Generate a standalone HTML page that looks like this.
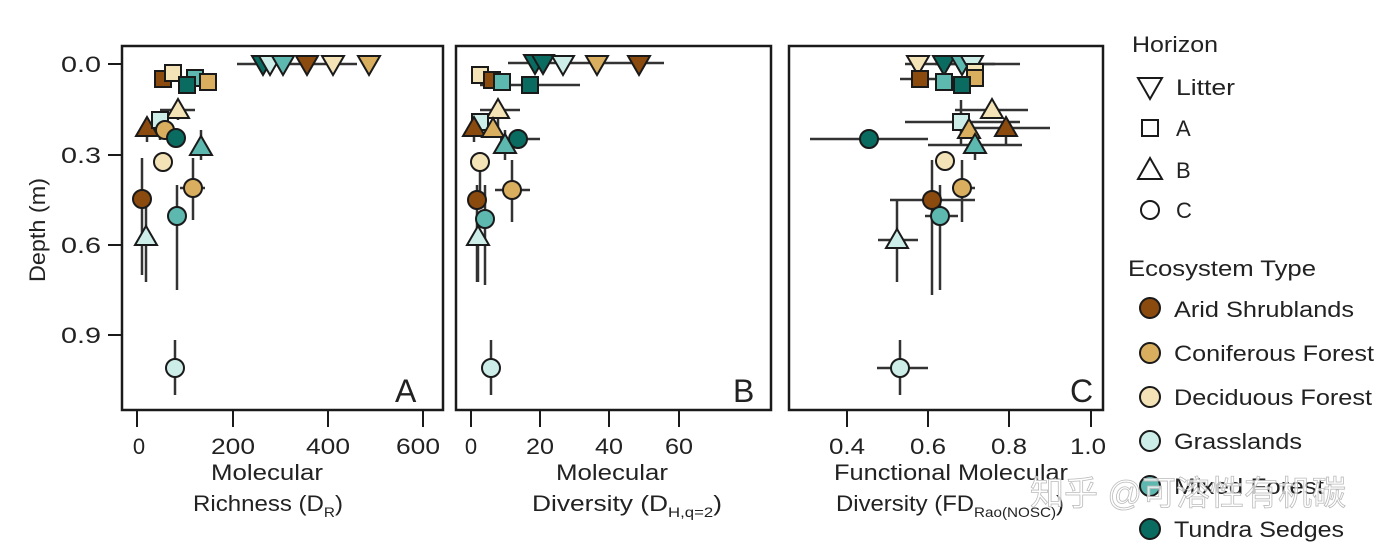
<!DOCTYPE html>
<html><head><meta charset="utf-8"><style>
html,body{margin:0;padding:0;background:#fff;width:1384px;height:549px;overflow:hidden}
svg text{font-family:"Liberation Sans","Noto Sans CJK SC",sans-serif;fill:#222}
</style></head><body>
<svg id="s" width="1384" height="549" viewBox="0 0 1384 549" xmlns="http://www.w3.org/2000/svg">
<g fill="none" stroke="#1a1a1a" stroke-width="2.5">
<rect x="122" y="46" width="321" height="364"/>
<rect x="456" y="46" width="315" height="364"/>
<rect x="789" y="46" width="314" height="364"/>
</g>
<g stroke="#1a1a1a" stroke-width="2">
<line x1="108" y1="64" x2="122" y2="64"/><line x1="108" y1="155" x2="122" y2="155"/><line x1="108" y1="245" x2="122" y2="245"/><line x1="108" y1="335" x2="122" y2="335"/>
<line x1="137" y1="411" x2="137" y2="427"/><line x1="233" y1="411" x2="233" y2="427"/><line x1="328" y1="411" x2="328" y2="427"/><line x1="423" y1="411" x2="423" y2="427"/>
<line x1="471" y1="411" x2="471" y2="427"/><line x1="540" y1="411" x2="540" y2="427"/><line x1="609" y1="411" x2="609" y2="427"/><line x1="679" y1="411" x2="679" y2="427"/>
<line x1="847" y1="411" x2="847" y2="427"/><line x1="928" y1="411" x2="928" y2="427"/><line x1="1009" y1="411" x2="1009" y2="427"/><line x1="1091" y1="411" x2="1091" y2="427"/>
</g>
<g font-size="22" text-anchor="end">
<text x="101" y="72" textLength="40">0.0</text><text x="101" y="163" textLength="40">0.3</text><text x="101" y="253" textLength="40">0.6</text><text x="101" y="343" textLength="40">0.9</text>
</g>
<g font-size="22" text-anchor="middle">
<text x="139" y="454">0</text><text x="233" y="454" textLength="44">200</text><text x="328" y="454" textLength="44">400</text><text x="418" y="454" textLength="44">600</text>
<text x="471" y="454">0</text><text x="540" y="454" textLength="28">20</text><text x="609" y="454" textLength="28">40</text><text x="679" y="454" textLength="28">60</text>
<text x="847" y="454" textLength="36">0.4</text><text x="928" y="454" textLength="36">0.6</text><text x="1009" y="454" textLength="36">0.8</text><text x="1088" y="454" textLength="36">1.0</text>
<text x="267" y="480" textLength="112">Molecular</text><text x="268" y="511" textLength="150">Richness (D<tspan font-size="14" dy="6">R</tspan><tspan dy="-6">)</tspan></text>
<text x="612" y="480" textLength="112">Molecular</text><text x="627" y="511" textLength="190">Diversity (D<tspan font-size="14" dy="6">H,q=2</tspan><tspan dy="-6">)</tspan></text>
<text x="951" y="480" textLength="234">Functional Molecular</text><text x="950" y="511" textLength="228">Diversity (FD<tspan font-size="14" dy="6">Rao(NOSC)</tspan><tspan dy="-6">)</tspan></text>
</g>
<text x="45" y="230" font-size="22" text-anchor="middle" transform="rotate(-90 45 230)" textLength="104">Depth (m)</text>
<g font-size="32"><text x="395" y="402">A</text><text x="733" y="402">B</text><text x="1070" y="402">C</text></g>
<g id="pts"></g>
<g font-size="22">
<text x="1132" y="52" textLength="86">Horizon</text>
<text x="1176" y="95" textLength="59">Litter</text><text x="1176" y="136">A</text><text x="1176" y="178">B</text><text x="1176" y="218">C</text>
<text x="1128" y="276" textLength="188">Ecosystem Type</text>
<text x="1174" y="317" textLength="180">Arid Shrublands</text><text x="1174" y="361" textLength="200">Coniferous Forest</text><text x="1174" y="405" textLength="198">Deciduous Forest</text><text x="1174" y="449" textLength="128">Grasslands</text><text x="1174" y="494" textLength="150">Mixed Forest</text><text x="1174" y="537" textLength="170">Tundra Sedges</text>
</g>
<g id="leg"></g>
<text x="1030" y="505" font-size="34" style="fill:rgba(255,255,255,0.75)" stroke="#bbb" stroke-width="0.8">知乎 @可溶性有机碳</text>
</svg>
<script>
document.querySelectorAll("text[textLength]").forEach(function(t){t.setAttribute("lengthAdjust","spacingAndGlyphs");});
var C={a:"#8B4A0E",c:"#D9AE5F",d:"#F5E3B8",g:"#CDEEE8",m:"#5DB8B0",t:"#0A6B60"};
var NS="http://www.w3.org/2000/svg";
function el(p,n,at){var e=document.createElementNS(NS,n);for(var k in at)e.setAttribute(k,at[k]);p.appendChild(e);return e;}
function mk(p,sh,x,y,col,s){s=s||9;var at={fill:col,stroke:"#1a1a1a","stroke-width":2};
 if(sh=="o"){at.cx=x;at.cy=y;at.r=s;el(p,"circle",at);}
 else if(sh=="s"){at.x=x-s+1;at.y=y-s+1;at.width=2*s-2;at.height=2*s-2;el(p,"rect",at);}
 else if(sh=="v"){at.points=(x-s-2)+","+(y-s+1)+" "+(x+s+2)+","+(y-s+1)+" "+x+","+(y+s+2);el(p,"polygon",at);}
 else {at.points=(x-s-2)+","+(y+s-1)+" "+(x+s+2)+","+(y+s-1)+" "+x+","+(y-s-2);el(p,"polygon",at);}}
var G=document.getElementById("pts");
function bar(x1,y1,x2,y2){el(G,"line",{x1:x1,y1:y1,x2:x2,y2:y2,stroke:"#333","stroke-width":2.5});}
var P=[
["v","t",263,64,237,357],["v","g",270,64],["v","m",283,64],["v","a",307,64],["v","d",333,64],["v","c",369,64],
["s","a",163,79,155,170],["s","d",173,73],["s","m",195,78],["s","t",187,85],["s","c",208,82],
["^","d",178,110,160,195,100,120],["^","a",147,128,0,0,120,142],["s","g",160,120,0,0,120,140],["o","c",165,130],["o","t",176,138,165,185],["^","m",201,147,0,0,130,160],
["o","d",163,162,155,172],["o","c",193,188,180,205,158,220],["o","a",142,199,0,0,158,275],["o","m",177,216,0,0,185,290],["^","g",146,237,0,0,200,282],["o","g",175,368,0,0,340,395],
["v","t",535,63,508,664],["v","t",543,63],["v","g",563,64],["v","c",597,64],["v","a",639,64],
["s","d",480,75],["s","a",492,80],["s","m",502,82],["s","t",530,85,480,580],
["^","d",498,110,480,520,100,130],["s","g",480,122],["^","a",474,128,0,0,118,142],["^","c",493,129],["o","t",518,139,500,540],["^","m",505,145,0,0,130,160],
["o","d",480,162,0,0,162,200],["o","c",512,190,495,530,160,222],["o","a",477,200,0,0,185,282],["o","m",485,219,0,0,185,285],["^","g",478,237,0,0,215,282],["o","g",491,368,0,0,340,395],
["v","d",918,64,905,995],["v","t",944,64,935,1020],["v","m",962,64],["v","g",972,64],
["s","d",975,72],["s","a",920,79,900,980],["s","m",944,82],["s","c",975,78],["s","t",962,85],
["^","d",992,110,955,1028],["s","g",961,122,905,1020,100,145],["^","c",969,130],["^","a",1006,128,960,1050,118,145],["o","t",869,139,810,928],["^","m",975,145,928,1022,140,160],
["o","d",945,161],["o","c",962,188,952,975,160,222],["o","a",932,200,890,975,160,295],["o","m",940,216,925,958,185,290],["^","g",897,240,878,918,200,282],["o","g",900,368,877,928,340,395]
];
P.forEach(function(p){if(p[4])bar(p[4],p[3],p[5],p[3]);if(p[6])bar(p[2],p[6],p[2],p[7]);});
P.forEach(function(p){mk(G,p[0],p[2],p[3],C[p[1]]);});
var L=document.getElementById("leg");
mk(L,"v",1150,87,"#fff",10);mk(L,"s",1150,128,"#fff",9);mk(L,"^",1150,170,"#fff",10);mk(L,"o",1150,210,"#fff",9);
[["a",308],["c",353],["d",397],["g",441],["m",486],["t",529]].forEach(function(q){mk(L,"o",1150,q[1],C[q[0]],10);});
</script>
</body></html>
